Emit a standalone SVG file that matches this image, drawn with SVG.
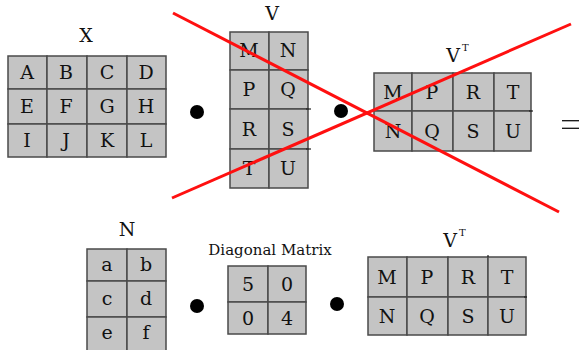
<svg xmlns="http://www.w3.org/2000/svg" width="579" height="350" viewBox="0 0 579 350">
<style>
.c{fill:#c4c4c4;stroke:#4a4a4a;stroke-width:1.5}
.t{font-family:"DejaVu Serif","Liberation Serif",serif;font-size:19px;fill:#111;text-anchor:middle}
.l{font-family:"DejaVu Serif","Liberation Serif",serif;font-size:19px;fill:#111;text-anchor:middle}
.s{font-family:"DejaVu Serif","Liberation Serif",serif;font-size:10px;fill:#111}
.d{fill:#000}
.x{stroke:#ff1010;stroke-width:3;fill:none}
.g{stroke:#222;stroke-width:1.2}
</style>
<rect width="579" height="350" fill="#fff"/>
<g id="X">
<text class="l" x="86" y="42">X</text>
<rect class="c" x="8" y="56" width="39" height="33"/><rect class="c" x="47" y="56" width="40" height="33"/><rect class="c" x="87" y="56" width="40" height="33"/><rect class="c" x="127" y="56" width="39" height="33"/>
<rect class="c" x="8" y="89" width="39" height="35"/><rect class="c" x="47" y="89" width="40" height="35"/><rect class="c" x="87" y="89" width="40" height="35"/><rect class="c" x="127" y="89" width="39" height="35"/>
<rect class="c" x="8" y="124" width="39" height="33"/><rect class="c" x="47" y="124" width="40" height="33"/><rect class="c" x="87" y="124" width="40" height="33"/><rect class="c" x="127" y="124" width="39" height="33"/>
<text class="t" x="27" y="79">A</text><text class="t" x="66" y="79">B</text><text class="t" x="107" y="79">C</text><text class="t" x="146" y="79">D</text>
<text class="t" x="27" y="113">E</text><text class="t" x="66" y="113">F</text><text class="t" x="107" y="113">G</text><text class="t" x="146" y="113">H</text>
<text class="t" x="27" y="147">I</text><text class="t" x="66" y="147">J</text><text class="t" x="107" y="147">K</text><text class="t" x="146" y="147">L</text>
</g>
<g id="V">
<text class="l" x="272" y="20">V</text>
<rect class="c" x="230" y="32" width="39" height="38"/><rect class="c" x="269" y="32" width="39" height="38"/>
<rect class="c" x="230" y="70" width="39" height="39"/><rect class="c" x="269" y="70" width="39" height="39"/>
<rect class="c" x="230" y="109" width="39" height="40"/><rect class="c" x="269" y="109" width="39" height="40"/>
<rect class="c" x="230" y="149" width="39" height="39"/><rect class="c" x="269" y="149" width="39" height="39"/>
<line class="g" x1="306" y1="109" x2="311" y2="109"/><line class="g" x1="306" y1="149" x2="311" y2="149"/>
<text class="t" x="249" y="57">M</text><text class="t" x="288" y="57">N</text>
<text class="t" x="249" y="96">P</text><text class="t" x="288" y="96">Q</text>
<text class="t" x="249" y="136">R</text><text class="t" x="288" y="136">S</text>
<text class="t" x="249" y="175">T</text><text class="t" x="288" y="175">U</text>
</g>
<g id="VT1">
<text class="l" x="453" y="62">V</text><text class="s" x="462" y="51">T</text>
<rect class="c" x="374" y="73" width="38" height="38"/><rect class="c" x="412" y="73" width="41" height="38"/><rect class="c" x="453" y="73" width="41" height="38"/><rect class="c" x="494" y="73" width="37" height="38"/>
<rect class="c" x="374" y="111" width="38" height="40"/><rect class="c" x="412" y="111" width="41" height="40"/><rect class="c" x="453" y="111" width="41" height="40"/><rect class="c" x="494" y="111" width="37" height="40"/>
<line class="g" x1="529" y1="111" x2="533" y2="111"/>
<text class="t" x="393" y="99">M</text><text class="t" x="432" y="99">P</text><text class="t" x="473" y="99">R</text><text class="t" x="513" y="99">T</text>
<text class="t" x="393" y="138">N</text><text class="t" x="432" y="138">Q</text><text class="t" x="473" y="138">S</text><text class="t" x="513" y="138">U</text>
</g>
<g id="N">
<text class="l" x="127" y="236">N</text>
<rect class="c" x="87" y="249" width="40" height="32"/><rect class="c" x="127" y="249" width="39" height="32"/>
<rect class="c" x="87" y="281" width="40" height="36"/><rect class="c" x="127" y="281" width="39" height="36"/>
<rect class="c" x="87" y="317" width="40" height="36"/><rect class="c" x="127" y="317" width="39" height="36"/>
<text class="t" x="107" y="271">a</text><text class="t" x="146" y="271">b</text>
<text class="t" x="107" y="305">c</text><text class="t" x="146" y="305">d</text>
<text class="t" x="107" y="339">e</text><text class="t" x="146" y="339">f</text>
</g>
<g id="Diag">
<text class="t" x="270" y="255" style="font-size:15px">Diagonal Matrix</text>
<rect class="c" x="228" y="266" width="40" height="36"/><rect class="c" x="268" y="266" width="38" height="36"/>
<rect class="c" x="228" y="302" width="40" height="32"/><rect class="c" x="268" y="302" width="38" height="32"/>
<text class="t" x="248" y="291">5</text><text class="t" x="287" y="291">0</text>
<text class="t" x="248" y="325">0</text><text class="t" x="287" y="325">4</text>
</g>
<g id="VT2">
<text class="l" x="450" y="247">V</text><text class="s" x="459" y="236">T</text>
<rect class="c" x="368" y="257" width="39" height="40"/><rect class="c" x="407" y="257" width="41" height="40"/><rect class="c" x="448" y="257" width="40" height="40"/><rect class="c" x="488" y="257" width="38" height="40"/>
<rect class="c" x="368" y="297" width="39" height="38"/><rect class="c" x="407" y="297" width="41" height="38"/><rect class="c" x="448" y="297" width="40" height="38"/><rect class="c" x="488" y="297" width="38" height="38"/>
<line class="g" x1="524" y1="297" x2="527" y2="297"/><line class="g" x1="488" y1="255" x2="488" y2="257"/>
<text class="t" x="387" y="284">M</text><text class="t" x="427" y="284">P</text><text class="t" x="468" y="284">R</text><text class="t" x="507" y="284">T</text>
<text class="t" x="387" y="323">N</text><text class="t" x="427" y="323">Q</text><text class="t" x="468" y="323">S</text><text class="t" x="507" y="323">U</text>
</g>
<g id="operators">
<circle class="d" cx="197" cy="112" r="7"/>
<circle class="d" cx="341" cy="111" r="7"/>
<circle class="d" cx="197" cy="306" r="7"/>
<circle class="d" cx="337" cy="304" r="7"/>
<line x1="562" y1="120.7" x2="580" y2="120.7" stroke="#111" stroke-width="1.3"/>
<line x1="562" y1="128.3" x2="580" y2="128.3" stroke="#111" stroke-width="1.3"/>
</g>
<g id="connectors">
<line class="x" x1="173" y1="13" x2="559" y2="212"/>
<line class="x" x1="172" y1="198" x2="571" y2="24"/>
</g>
</svg>
